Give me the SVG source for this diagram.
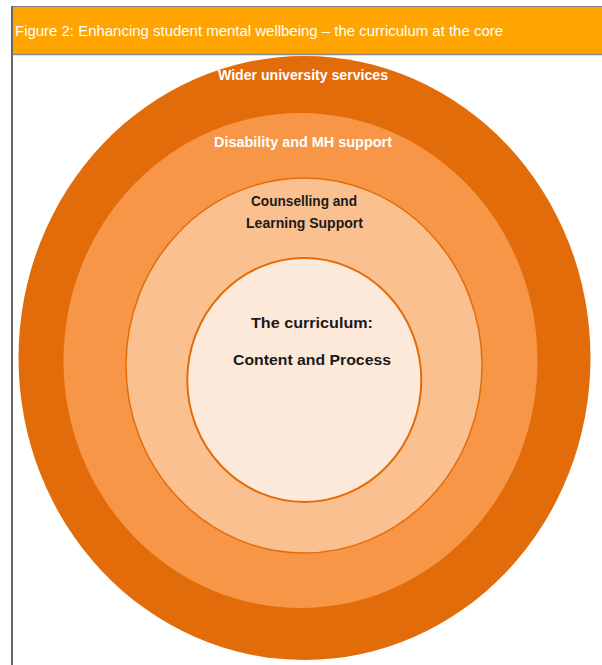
<svg xmlns="http://www.w3.org/2000/svg" width="602" height="665" viewBox="0 0 602 665">
  <style>
    .hdr { font-family: "Liberation Sans", Arial, sans-serif; font-size: 14px; fill: #ffffff; }
    .lbl { font-family: "Liberation Sans", Arial, sans-serif; font-size: 14px; font-weight: bold; text-anchor: middle; }
    .light { fill: #ffffff; }
    .dark { fill: #1a1a1a; }
    .big { font-size: 15px; }
  </style>
  <rect x="0" y="0" width="602" height="665" fill="#ffffff"/>

  <!-- Title bar and frame -->
  <g id="title">
    <rect x="12" y="6" width="590" height="48" fill="#FFA400"/>
    <line x1="12" y1="6.5" x2="602" y2="6.5" stroke="#7f7f7f" stroke-width="1"/>
    <line x1="12" y1="54.5" x2="602" y2="54.5" stroke="#8a8a8a" stroke-width="1.5"/>
    <line x1="12" y1="6" x2="12" y2="665" stroke="#666666" stroke-width="2"/>
    <text class="hdr" x="15" y="36" textLength="488" lengthAdjust="spacingAndGlyphs">Figure 2: Enhancing student mental wellbeing – the curriculum at the core</text>
  </g>

  <!-- Outer ring -->
  <g id="wider-services">
    <ellipse cx="304.5" cy="358" rx="286" ry="302" fill="#E36C0A"/>
    <text class="lbl light" x="303" y="80" textLength="170" lengthAdjust="spacingAndGlyphs">Wider university services</text>
  </g>

  <!-- Second ring -->
  <g id="disability-mh">
    <ellipse cx="300.5" cy="360.5" rx="237" ry="247.5" fill="#F79646"/>
    <text class="lbl light" x="303" y="147" textLength="178" lengthAdjust="spacingAndGlyphs">Disability and MH support</text>
  </g>

  <!-- Third ring -->
  <g id="counselling">
    <ellipse cx="304" cy="365.5" rx="178" ry="187.5" fill="#FAC090" stroke="#E36C0A" stroke-width="1.5"/>
    <text class="lbl dark" x="304" y="206" textLength="106" lengthAdjust="spacingAndGlyphs">Counselling and</text>
    <text class="lbl dark" x="304.5" y="228" textLength="117" lengthAdjust="spacingAndGlyphs">Learning Support</text>
  </g>

  <!-- Core -->
  <g id="curriculum">
    <ellipse cx="304.3" cy="380" rx="117" ry="122" fill="#FDE9D9" stroke="#E36C0A" stroke-width="2"/>
    <text class="lbl dark big" x="312" y="328" textLength="122" lengthAdjust="spacingAndGlyphs">The curriculum:</text>
    <text class="lbl dark big" x="312" y="365" textLength="158" lengthAdjust="spacingAndGlyphs">Content and Process</text>
  </g>

  <g id="connectors"/>
</svg>
